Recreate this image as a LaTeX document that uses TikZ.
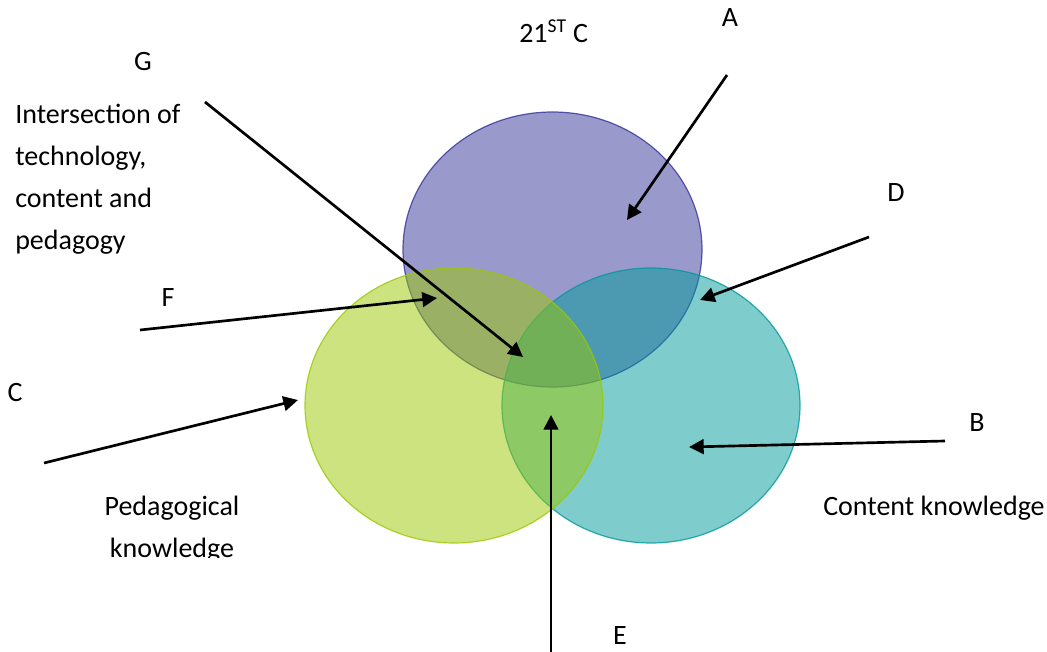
\documentclass[tikz,border=0pt]{standalone}
\usepackage{fontspec}
\setmainfont{Carlito}
\usetikzlibrary{arrows.meta}
\definecolor{purp}{HTML}{333399}
\definecolor{grn}{HTML}{9BC800}
\definecolor{teal}{HTML}{009999}
\tikzset{
  setcirc/.style={fill opacity=0.5, draw opacity=0.8, line width=0.9pt},
  lbl/.style={font=\fontsize{21}{31.5}\selectfont, inner sep=0pt, text=black},
  pointer/.style={line width=2pt, -{Triangle[length=11pt,width=11pt]}}
}
\begin{document}
\begin{tikzpicture}[x=0.75pt,y=-0.75pt]
\useasboundingbox (0,0) rectangle (1047,652);
% sets
\path[setcirc, fill=purp, draw=purp] (552.5,249.5) ellipse [x radius=149.5, y radius=137.5];
\path[setcirc, fill=teal, draw=teal] (651,405.5) ellipse [x radius=149, y radius=137.5];
\path[setcirc, fill=grn, draw=grn] (454,405.5) ellipse [x radius=149, y radius=137.5];
% labels
\node[lbl, anchor=base west] (t21) at (519,43) {21\textsuperscript{ST} C};
\node[lbl] (lA) at (730,18) {A};
\node[lbl] (lG) at (143,62) {G};
\node[lbl, anchor=north west, align=left] (lGt) at (15,104) {Intersection of\\technology,\\content and\\pedagogy};
\node[lbl] (lD) at (896,193) {D};
\node[lbl] (lF) at (168,298) {F};
\node[lbl] (lC) at (15,393) {C};
\node[lbl] (lB) at (977,423) {B};
\begin{scope}
\clip (0,0) rectangle (1047,557);
\node[lbl, align=center, anchor=north] (lPK) at (172,496) {Pedagogical\\knowledge};
\end{scope}
\node[lbl] (lCK) at (934,508) {Content knowledge};
\node[lbl] (lE) at (620,636) {E};
% arrow ends
\coordinate (sA) at (727,75);   \coordinate (eA) at (627,220);
\coordinate (sG) at (205,102);  \coordinate (eG) at (523,357);
\coordinate (sD) at (869,237);  \coordinate (eD) at (700,300);
\coordinate (sF) at (140,330);  \coordinate (eF) at (437,298);
\coordinate (sC) at (44,463);   \coordinate (eC) at (298,400);
\coordinate (sB) at (945,441);  \coordinate (eB) at (689,447);
\coordinate (sE) at (551,652);  \coordinate (eE) at (551,415);
\draw[pointer] (sA) -- (eA);
\draw[pointer] (sG) -- (eG);
\draw[pointer] (sD) -- (eD);
\draw[pointer] (sF) -- (eF);
\draw[pointer] (sC) -- (eC);
\draw[pointer] (sB) -- (eB);
\draw[pointer] (sE) -- (eE);
\end{tikzpicture}
\end{document}
